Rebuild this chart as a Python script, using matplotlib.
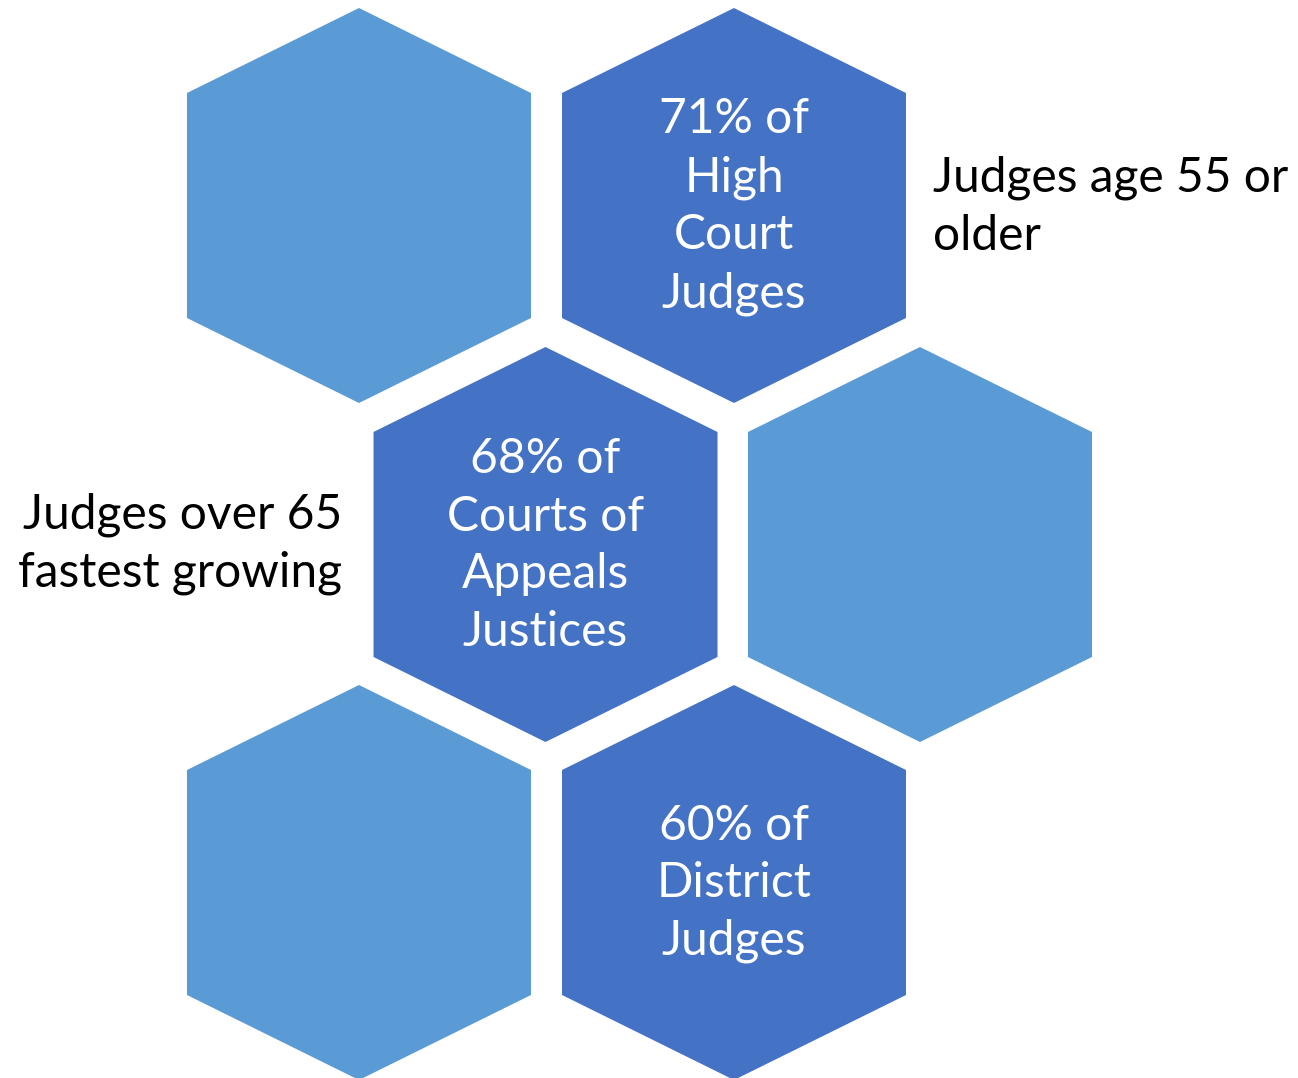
import matplotlib.pyplot as plt
from matplotlib.patches import Polygon

LIGHT = "#5B9BD5"
DARK = "#4472C4"

# hexagon centres (pixels) and fill
hex_x = [359, 734, 545.5, 920, 359, 734]
hex_y = [205.5, 205.5, 544.5, 544.5, 882.5, 882.5]
hex_color = [LIGHT, DARK, DARK, LIGHT, LIGHT, DARK]
hex_text = ["", "71% of\nHigh\nCourt\nJudges", "68% of\nCourts of\nAppeals\nJustices",
            "", "", "60% of\nDistrict\nJudges"]

side_text = ["Judges age 55 or\nolder", "Judges over 65\nfastest growing"]

HALF_W = 172
HALF_H = 197.5
SHOULDER = 85

FONT = "Lato"
SIZE = 34.5
LS = 1.38

fig = plt.figure(figsize=(12.98, 10.78), dpi=100)
ax = fig.add_axes([0, 0, 1, 1])
ax.set_xlim(0, 1298)
ax.set_ylim(1078, 0)
ax.axis("off")

for x, y, c, t in zip(hex_x, hex_y, hex_color, hex_text):
    pts = [
        (x, y - HALF_H),
        (x + HALF_W, y - HALF_H + SHOULDER),
        (x + HALF_W, y + HALF_H - SHOULDER),
        (x, y + HALF_H),
        (x - HALF_W, y + HALF_H - SHOULDER),
        (x - HALF_W, y - HALF_H + SHOULDER),
    ]
    ax.add_patch(Polygon(pts, closed=True, facecolor=c, edgecolor="none"))
    if t:
        ax.text(x, y + 1, t, ha="center", va="center", color="white",
                fontsize=SIZE, family=FONT, linespacing=LS)

ax.text(933, 207, side_text[0], ha="left", va="center", color="black",
        fontsize=SIZE, family=FONT, linespacing=LS)
ax.text(342, 544, side_text[1], ha="right", va="center", color="black",
        fontsize=SIZE, family=FONT, linespacing=LS, multialignment="right")

fig.savefig("out.png", dpi=100)
